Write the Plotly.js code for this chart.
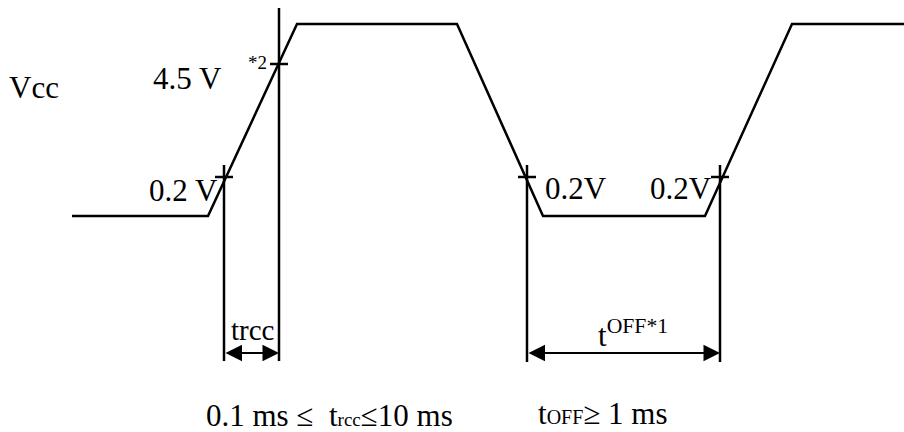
<!DOCTYPE html>
<html>
<head>
<meta charset="utf-8">
<script src="https://cdn.plot.ly/plotly-3.0.1.min.js"></script>
<style>html,body{margin:0;padding:0;background:#fff;}#chart{width:904px;height:432px;}</style>
</head>
<body>
<div id="chart"></div>
<script>
// Waveform (diagram units, y grows downward)
const waveX = [72, 208, 297, 457, 543, 705, 792, 904];
const waveY = [216, 216, 24, 24, 216, 216, 24, 24];

// Measurement marker verticals: x position, top, bottom
const markX = [224, 279, 527, 720];
const markTop = [165, 8, 165, 165];
const markBottom = [361, 361, 362, 362];

// Threshold crossings (ticks)
const tickX = [224, 279, 527, 720];
const tickY = [177, 64, 177, 177];
const tickHalf = 9;

// Dimension arrows
const arrowFrom = [224, 527];
const arrowTo = [279, 720];
const arrowY = 353;

// Labels
const labelText = ["Vcc", "4.5 V", "*2", "0.2 V", "0.2V", "0.2V", "trcc",
  't<sup>OFF*1</sup>',
  '0.1 ms ≤  t<span style="font-size:19px">rcc</span>≤10 ms',
  't<span style="font-size:20px">OFF</span>≥ 1 ms'];
const labelX = [7, 151, 246, 147, 543, 648, 229, 596, 204, 536];
const labelY = [87, 78, 62, 190, 188, 188, 330, 333, 415, 413];
const labelSize = [31, 31, 19, 31, 31, 31, 29, 31, 31, 31];

const line = {color: '#000', width: 2.5};
const traces = [];
traces.push({x: waveX, y: waveY, mode: 'lines', line: line, hoverinfo: 'skip'});

const vx = [], vy = [];
markX.forEach((x, i) => { vx.push(x, x, null); vy.push(markTop[i], markBottom[i], null); });
traces.push({x: vx, y: vy, mode: 'lines', line: line, hoverinfo: 'skip'});

const tx = [], ty = [];
tickX.forEach((x, i) => { tx.push(x - tickHalf, x + tickHalf, null); ty.push(tickY[i], tickY[i], null); });
traces.push({x: tx, y: ty, mode: 'lines', line: line, hoverinfo: 'skip'});

const annotations = [];
labelText.forEach((t, i) => {
  annotations.push({x: labelX[i], y: labelY[i], xref: 'x', yref: 'y', text: t, showarrow: false,
    xanchor: 'left', yanchor: 'middle', font: {family: 'Liberation Serif, Times New Roman, serif', size: labelSize[i], color: '#000'}});
});
arrowFrom.forEach((a, i) => {
  annotations.push({x: arrowTo[i], y: arrowY, ax: a, ay: arrowY, xref: 'x', yref: 'y', axref: 'x', ayref: 'y',
    text: '', showarrow: true, arrowside: 'end+start', arrowhead: 2, arrowsize: 1.5, arrowwidth: 2.2, arrowcolor: '#000',
    startarrowhead: 2, startarrowsize: 1.5, standoff: 0, startstandoff: 0});
});

const layout = {
  width: 904, height: 432,
  margin: {l: 0, r: 0, t: 0, b: 0},
  paper_bgcolor: '#fff', plot_bgcolor: '#fff',
  showlegend: false,
  xaxis: {range: [0, 904], visible: false, fixedrange: true},
  yaxis: {range: [432, 0], visible: false, fixedrange: true},
  annotations: annotations
};
Plotly.newPlot('chart', traces, layout, {staticPlot: true, displayModeBar: false});
</script>
</body>
</html>
